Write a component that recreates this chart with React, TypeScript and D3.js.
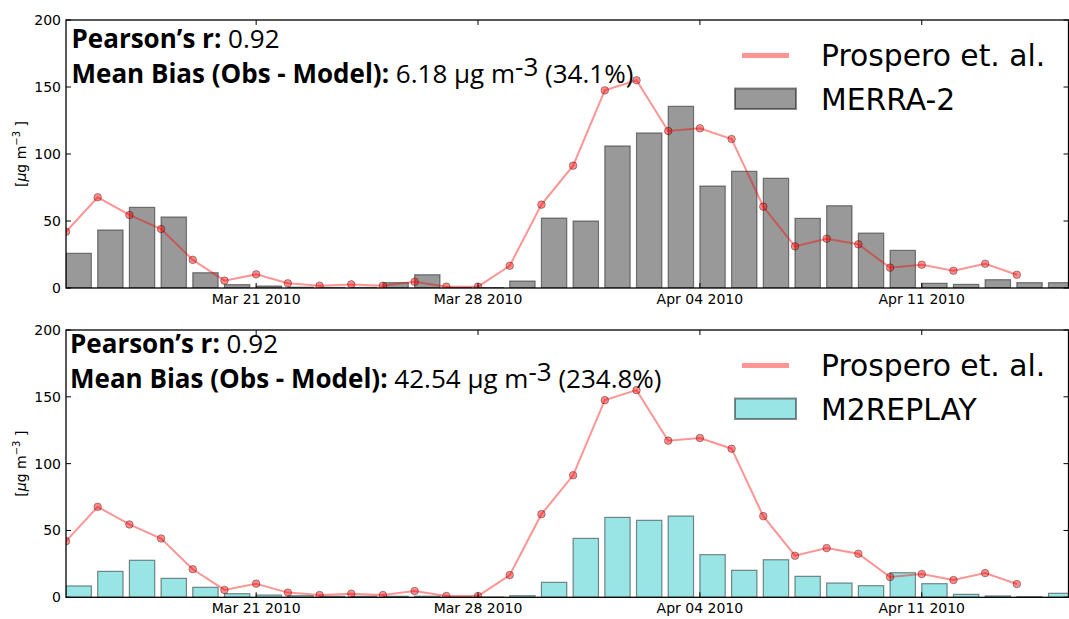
import React from "react";
import * as d3 from "d3";

const startDate = Date.UTC(2010, 2, 15);
const DAY = 86400000;

const prospero = [42, 67.7, 54.5, 44, 21, 5.5, 10.2, 3.5, 1.7, 2.7, 1.7, 4.7, 1, 1, 16.6, 62.2, 91.3, 147.5, 155, 117.2, 119.2, 111.2, 60.7, 31.1, 36.8, 32.6, 15.2, 17.4, 12.9, 18.1, 9.9];
const merra2 = [25.9, 43.3, 60.2, 53, 11.4, 2.5, 1.5, 0.6, 0.4, 0.4, 4.0, 9.9, 0.4, 0.3, 5.2, 52.2, 50, 106, 115.7, 135.6, 76.1, 87.1, 81.9, 52, 61.4, 41, 28.1, 3.5, 2.7, 6.2, 4, 4];
const m2replay = [8.5, 19.4, 27.7, 14.2, 7.5, 2.7, 1.7, 1.2, 0.8, 0.8, 0.8, 0.8, 0.3, 0.2, 1.2, 11.2, 44.1, 59.8, 57.6, 60.8, 31.9, 20.2, 28.1, 15.7, 10.7, 8.7, 18.4, 10.2, 2.2, 1, 0.5, 3];

const xTickDates = [Date.UTC(2010, 2, 21), Date.UTC(2010, 2, 28), Date.UTC(2010, 3, 4), Date.UTC(2010, 3, 11)];
const yTicks = [0, 50, 100, 150, 200];

const panels = [
  { model: "MERRA-2", values: merra2, r: "0.92", bias: "6.18", pct: "34.1%", fill: "#999999", top: 20, bottom: 288, annDy: 0, annDx: 0 },
  { model: "M2REPLAY", values: m2replay, r: "0.92", bias: "42.54", pct: "234.8%", fill: "#99e5e5", top: 330, bottom: 597.3, annDy: -5, annDx: -1.5 },
];

const W = 1069;
const H = 619;
const LEFT = 66;
const RIGHT = 1068.5;

function Panel({ p }: { p: (typeof panels)[number] }) {
  const x = d3.scaleUtc().domain([new Date(startDate), new Date(startDate + 31.63 * DAY)]).range([LEFT, RIGHT]);
  const y = d3.scaleLinear().domain([0, 200]).range([p.bottom, p.top]);
  const dayDate = (i: number) => new Date(startDate + i * DAY);
  const barW = x(dayDate(0.8)) - x(dayDate(0));
  const line = d3
    .line<number>()
    .x((_, i) => x(dayDate(i)))
    .y((d) => y(d));
  const tickFont = "DejaVu Sans, sans-serif";
  const fmt = d3.utcFormat("%b %d %Y");
  const mid = (p.top + p.bottom) / 2;
  return (
    <g>
      <defs>
        <clipPath id={"clip-" + p.model}>
          <rect x={LEFT} y={p.top} width={RIGHT - LEFT} height={p.bottom - p.top} />
        </clipPath>
      </defs>
      <g clipPath={`url(#clip-${p.model})`}>
        {p.values.map((v, i) => (
          <rect
            key={i}
            x={x(dayDate(i))}
            y={y(v)}
            width={barW}
            height={y(0) - y(v)}
            fill={p.fill}
            stroke="#000"
            strokeOpacity={0.45}
            strokeWidth={1.2}
          />
        ))}
        <path d={line(prospero) || ""} fill="none" stroke="#ff0000" strokeOpacity={0.42} strokeWidth={2} />
        {prospero.map((v, i) => (
          <circle key={i} cx={x(dayDate(i))} cy={y(v)} r={3.8} fill="#ff0000" fillOpacity={0.45} stroke="#000" strokeOpacity={0.35} strokeWidth={1} />
        ))}
      </g>
      {/* spines */}
      <rect x={LEFT} y={p.top} width={RIGHT - LEFT} height={p.bottom - p.top} fill="none" stroke="#000" strokeWidth={1.3} />
      {/* y ticks */}
      {yTicks.map((t) => (
        <g key={t}>
          <line x1={LEFT} x2={LEFT + 5} y1={y(t)} y2={y(t)} stroke="#000" strokeWidth={1} />
          <line x1={RIGHT - 5} x2={RIGHT} y1={y(t)} y2={y(t)} stroke="#000" strokeWidth={1} />
          <text x={LEFT - 5} y={y(t)} dy="0.35em" textAnchor="end" fontFamily={tickFont} fontSize={14} fill="#000">
            {t}
          </text>
        </g>
      ))}
      {/* x ticks */}
      {xTickDates.map((t) => (
        <g key={t}>
          <line x1={x(new Date(t))} x2={x(new Date(t))} y1={p.bottom} y2={p.bottom - 5} stroke="#000" strokeWidth={1} />
          <line x1={x(new Date(t))} x2={x(new Date(t))} y1={p.top} y2={p.top + 5} stroke="#000" strokeWidth={1} />
          <text x={x(new Date(t))} y={p.bottom + 16} textAnchor="middle" fontFamily={tickFont} fontSize={14} fill="#000">
            {fmt(new Date(t))}
          </text>
        </g>
      ))}
      {/* y label */}
      <text transform={`translate(26,${mid}) rotate(-90)`} textAnchor="middle" fontFamily={tickFont} fontSize={14} fill="#000">
        [<tspan fontStyle="italic">μ</tspan>g m<tspan dy={-6} fontSize={10}>−3</tspan>
        <tspan dy={6}> ]</tspan>
      </text>
      {/* annotations */}
      <text x={71.5 + p.annDx} y={p.top + 28.3 + p.annDy} fontFamily="Open Sans, sans-serif" fontSize={26} fill="#000">
        <tspan fontWeight="bold">Pearson’s r:</tspan>
        <tspan> {p.r}</tspan>
      </text>
      <text x={71.5 + p.annDx} y={p.top + 63.3 + p.annDy} fontFamily="Open Sans, sans-serif" fontSize={26} fill="#000">
        <tspan fontWeight="bold">Mean Bias (Obs - Model):</tspan>
        <tspan> {p.bias} μg m</tspan>
        <tspan dy={-7}>-3</tspan>
        <tspan dy={7}> ({p.pct})</tspan>
      </text>
      {/* legend */}
      <line x1={742} x2={789} y1={p.top + 35.5} y2={p.top + 35.5} stroke="#ff0000" strokeOpacity={0.42} strokeWidth={5} />
      <text x={821} y={p.top + 45.7} fontFamily={tickFont} fontSize={29.8} fill="#000">
        Prospero et. al.
      </text>
      <rect x={735} y={p.top + 68.5} width={61} height={20.5} fill={p.fill} stroke="#000" strokeOpacity={0.45} strokeWidth={2} />
      <text x={821} y={p.top + 89.8} fontFamily={tickFont} fontSize={29.8} fill="#000">
        {p.model}
      </text>
    </g>
  );
}

export default function App() {
  return (
    <div style={{ position: "fixed", left: 0, top: 0, width: W, height: H, background: "#fff" }}>
      <svg width={W} height={H} viewBox={`0 0 ${W} ${H}`} style={{ display: "block" }}>
        <rect width={W} height={H} fill="#fff" />
        {panels.map((p) => (
          <Panel key={p.model} p={p} />
        ))}
      </svg>
    </div>
  );
}
